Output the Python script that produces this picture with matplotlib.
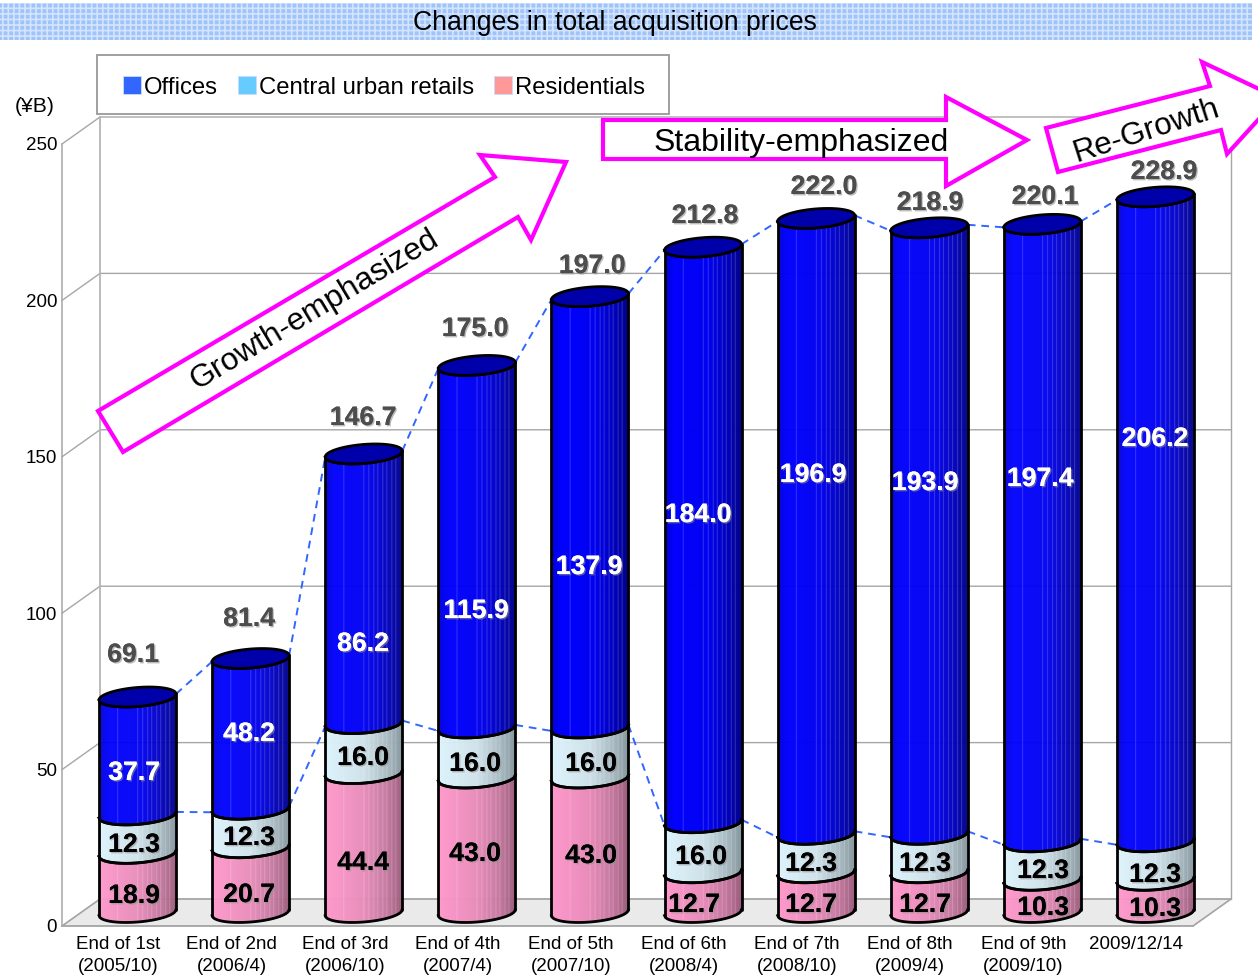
import numpy as np
import matplotlib
matplotlib.use("Agg")
import matplotlib.pyplot as plt
from matplotlib.colors import to_rgb
from matplotlib.patches import Polygon, Rectangle, Patch
from matplotlib.transforms import Affine2D, IdentityTransform
import matplotlib.patheffects as pe

# ---------- data ----------
categories = ["End of 1st\n(2005/10)", "End of 2nd\n(2006/4)", "End of 3rd\n(2006/10)",
              "End of 4th\n(2007/4)", "End of 5th\n(2007/10)", "End of 6th\n(2008/4)",
              "End of 7th\n(2008/10)", "End of 8th\n(2009/4)", "End of 9th\n(2009/10)",
              "2009/12/14"]
residentials = [18.9, 20.7, 44.4, 43.0, 43.0, 12.7, 12.7, 12.7, 10.3, 10.3]
retails = [12.3, 12.3, 16.0, 16.0, 16.0, 16.0, 12.3, 12.3, 12.3, 12.3]
offices = [37.7, 48.2, 86.2, 115.9, 137.9, 184.0, 196.9, 193.9, 197.4, 206.2]
totals = [69.1, 81.4, 146.7, 175.0, 197.0, 212.8, 222.0, 218.9, 220.1, 228.9]
series_names = ["Offices", "Central urban retails", "Residentials"]
y_ticks = [0, 50, 100, 150, 200, 250]

# ---------- layout (pixel positions of the hand-placed annotations) ----------
W, H = 1258, 976
res_xy = [(134, 894), (249, 893), (363, 861), (475, 852), (591, 854), (694, 903), (811, 903), (925, 903), (1043, 906), (1155, 907)]
ret_xy = [(134, 843), (249, 836), (363, 756), (475, 762), (591, 762), (701, 855), (811, 862), (925, 862), (1043, 869), (1155, 873)]
off_xy = [(134, 771), (249, 732), (363, 642), (476, 609), (589, 565), (698, 513), (813, 473), (925, 481), (1040, 477), (1155, 437)]
tot_xy = [(133, 653), (249, 617), (363, 416), (475, 327), (592, 264), (705, 214), (824, 185), (930, 201), (1045, 195), (1164, 170)]
arrow_growth = [(98, 411), (495, 177), (480, 155), (566, 162), (531, 240), (518, 217), (123, 452)]
arrow_stable = [(603, 120), (946, 120), (946, 97), (1027, 140), (946, 186), (946, 159), (603, 159)]
arrow_regrow = [(1046, 128), (1210, 86), (1202, 62), (1278, 98), (1227, 154), (1221, 130), (1058, 172)]

plt.rcParams["font.family"] = ["Liberation Sans", "DejaVu Sans"]
plt.rcParams["hatch.linewidth"] = 1.2
fig = plt.figure(figsize=(W / 100, H / 100), dpi=100, facecolor="white")
ax = fig.add_axes([62 / W, (H - 926) / H, 1131 / W, 782 / H])
ax.patch.set_visible(False)
ax.set_xlim(-0.5, 9.5)
ax.set_ylim(0, 250)
PX = Affine2D().scale(1, -1).translate(0, H)   # reference pixels -> display

GRID = "#A6A6A6"
DX, DY = 38 / 113.1, 27 / 3.128               # depth of the 3D box
for s in ("top", "right"):
    ax.spines[s].set_visible(False)
for s in ("left", "bottom"):
    ax.spines[s].set_color(GRID)
    ax.spines[s].set_linewidth(1.1)
ax.set_yticks(y_ticks)
ax.set_xticks(range(len(categories)))
ax.set_xticklabels(categories, fontsize=13.5, linespacing=1.37, va="top")
ax.tick_params(axis="both", length=0, labelsize=13.5, labelcolor="black")
ax.tick_params(axis="x", pad=7.5)
ax.tick_params(axis="y", pad=3.5)

# 3D box: floor, side wall, back wall
x0, x1 = -0.5, 9.5
ax.add_patch(Polygon([(x0, 0), (x0 + DX, DY), (x1 + DX, DY), (x1, 0)], closed=True,
                     fc="#EAEAEA", ec=GRID, lw=1.0, zorder=1, clip_on=False))
for t in y_ticks:
    ax.plot([x0, x0 + DX, x1 + DX], [t, t + DY, t + DY], color=GRID, lw=1.0, zorder=1.2, clip_on=False)
ax.plot([x0 + DX, x0 + DX], [DY, 250 + DY], color="#B5B5B5", lw=1.3, zorder=1.2, clip_on=False)
ax.plot([x1 + DX, x1 + DX], [DY, 250 + DY], color=GRID, lw=1.0, zorder=1.2, clip_on=False)
ax.plot([x1, x1 + DX], [0, DY], color=GRID, lw=1.0, zorder=1.2, clip_on=False)

# cylinders
HW = 38.5 / 113.1          # half width in category units
B = 9.5 / 3.128            # half height of the ellipse in value units
S = 3.0 / 3.128            # tilt of the ellipse in value units
CX = DX / 2
BASE = DY / 2
N = 77
LIGHT = [-0.52, 0.0, 0.12, 0.25, 0.37, 0.5, 0.6, 0.72, 0.84]


def ramp(stops, u):
    us = [p[0] for p in stops]
    rgb = np.array([to_rgb(p[1]) for p in stops])
    return tuple(np.interp(u, us, rgb[:, k]) for k in range(3))


stops_off = [(-1, "#0000D8"), (-0.75, "#0000FF"), (0.1, "#0000F0"), (0.6, "#0000C0"), (1, "#00008A")]
stops_ret = [(-1, "#DDF3FB"), (0, "#CFE2EA"), (0.6, "#A8BAC2"), (1, "#85959C")]
stops_res = [(-1, "#FF99CC"), (0, "#E88CBA"), (0.6, "#C4779E"), (1, "#9A5C7B")]


def front(u, v):
    return v + S * u - B * np.sqrt(np.clip(1 - u ** 2, 0, 1))


def segment(c, v0, v1, stops, z):
    edges = np.linspace(-1, 1, N + 1)
    for a, b in zip(edges[:-1], edges[1:]):
        mid = (a + b) / 2
        col = ramp(stops, mid)
        if any(abs(mid - l) <= 1 / N for l in LIGHT):
            col = tuple(k + (1 - k) * 0.18 for k in col)
        u = np.linspace(a, b, 3)
        ax.fill_between(c + u * HW, front(u, v0), front(u, v1), color=col, lw=0.4,
                        zorder=z, clip_on=False)
    u = np.linspace(-1, 1, 80)
    ax.plot(c + u * HW, front(u, v0), color="black", lw=2.0, zorder=z + 0.1, clip_on=False)
    ax.plot(c + u * HW, front(u, v1), color="black", lw=2.0, zorder=z + 0.1, clip_on=False)
    for sgn in (-1, 1):
        ax.plot([c + sgn * HW] * 2, [v0 + sgn * S, v1 + sgn * S], color="black", lw=2.0,
                zorder=z + 0.1, clip_on=False, solid_capstyle="round")


tops, mids = [], []
for i in range(len(categories)):
    c = i + CX
    v0 = BASE
    v1 = v0 + residentials[i]
    v2 = v1 + retails[i]
    v3 = v2 + offices[i]
    mids.append(v2)
    tops.append(v3)
    z = 3 + i * 0.01
    segment(c, v0, v1, stops_res, z)
    segment(c, v1, v2, stops_ret, z)
    segment(c, v2, v3, stops_off, z)
    t = np.linspace(0, 2 * np.pi, 120)
    ax.fill(c + HW * np.cos(t), v3 + S * np.cos(t) + B * np.sin(t), fc="#0000AA", ec="black",
            lw=2.0, zorder=z + 0.2, clip_on=False)

# series lines
for lev in (tops, mids):
    for i in range(len(categories) - 1):
        ax.plot([i + CX + HW, i + 1 + CX - HW], [lev[i] + S, lev[i + 1] - S], color="#3366FF",
                lw=1.4, dashes=(4, 3), zorder=2, clip_on=False)

# value labels
shadow = [pe.withSimplePatchShadow(offset=(1, -1), shadow_rgbFace="#909090", alpha=0.6), pe.Normal()]


def labels(vals, xy, color):
    for v, (x, y) in zip(vals, xy):
        ax.text(x, y + 2, f"{v:.1f}", transform=PX, ha="center", va="center", fontsize=19.2,
                fontweight="bold", color=color, zorder=6, path_effects=shadow, clip_on=False)


labels(residentials, res_xy, "black")
labels(retails, ret_xy, "black")
labels(offices, off_xy, "white")
labels(totals, tot_xy, "#4D4D4D")

# arrows
for verts, z in ((arrow_growth, 5), (arrow_stable, 5), (arrow_regrow, 5)):
    ax.add_patch(Polygon(verts, closed=True, transform=PX, fc="white", ec="#FF00FF", lw=3.0,
                         joinstyle="miter", zorder=z, clip_on=False))
for txt, x, y, rot, fs in (("Growth-emphasized", 314, 310, 31, 22.9),
                           ("Stability-emphasized", 801, 143, 0, 23.0),
                           ("Re-Growth", 1146.5, 131, 17.9, 22.6)):
    ax.text(x, y, txt, transform=PX, ha="center", va="center", rotation=rot, rotation_mode="anchor",
            fontsize=fs, color="black", zorder=5.5, clip_on=False)

# title band
ax.add_patch(Rectangle((0, 3), 1252, 37, transform=PX, fc="#9FC4F9", ec="#D4E4FC", hatch="+++",
                       lw=0, zorder=0.5, clip_on=False))
ax.text(615, 23.5, "Changes in total acquisition prices", transform=PX, ha="center", va="center",
        fontsize=19.2, color="black", zorder=7, clip_on=False)

# unit and legend
ax.text(35, 107, "(¥B)", transform=PX, ha="center", va="center", fontsize=15.2, zorder=7, clip_on=False)
ax.add_patch(Rectangle((97, 55), 572, 59, transform=PX, fc="white", ec="#999999", lw=1.3, zorder=4,
                       clip_on=False))
handles = [Patch(fc=col, ec="#C8DCFF", lw=0.6, label=n)
           for n, col in zip(series_names, ["#3366FF", "#66CCFF", "#FF9999"])]
leg = ax.legend(handles=handles, ncol=3, frameon=False, fontsize=17.2, handlelength=0.75, handleheight=0.75,
                handletextpad=0.12, columnspacing=0.85, borderpad=0, borderaxespad=0,
                loc="center left", bbox_to_anchor=(123, H - 87.5), bbox_transform=IdentityTransform())
leg.set_zorder(4.5)

fig.savefig("out.png", dpi=100, facecolor="white")
